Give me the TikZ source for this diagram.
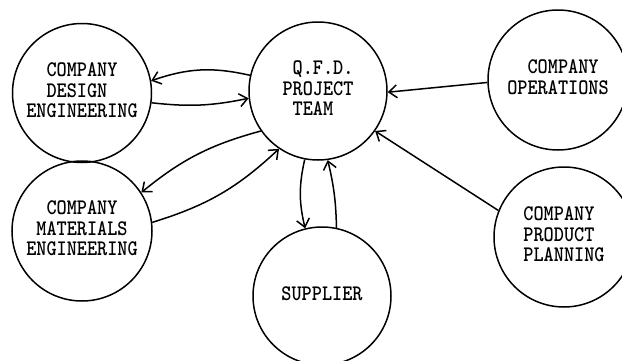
\documentclass[tikz,border=0pt]{standalone}
\usepackage{graphicx}
\usetikzlibrary{arrows.meta}

% typewriter-style capitals, slightly condensed look (tall letters)
\newcommand\bubbletext[2][c]{\scalebox{1}[1.15]{\fontsize{19.3}{17.4}\selectfont\ttfamily\bfseries
  \begin{tabular}{@{}#1@{}}#2\end{tabular}}}
\newcommand\onechar{\hspace*{0.525em}}

\tikzset{
  bubble/.style={circle, draw, line width=1.5pt, minimum size=#1, inner sep=0pt},
  flow/.style={line width=1.5pt, -{Straight Barb[length=8pt,width=13pt]}},
}

\begin{document}
\begin{tikzpicture}[x=1pt,y=1pt]
  \useasboundingbox (0,0) rectangle (622,360);

  % circles
  \node[bubble=138] (qfd)    at (318,269) {\bubbletext[l]{\onechar Q.F.D.\\PROJECT\\\onechar TEAM}};
  \node[bubble=139] (design) at (82,267)  {\bubbletext{COMPANY\\DESIGN\onechar\\ENGINEERING}};
  \node[bubble=140] (mat)    at (82,129)  {\bubbletext{COMPANY\\MATERIALS\\ENGINEERING}};
  \node[bubble=138] (sup)    at (322,64)  {\bubbletext{SUPPLIER}};
  \node[bubble=140] (ops)    at (558,280) {\bubbletext{\onechar COMPANY\\OPERATIONS}};
  \node[bubble=140] (pp)     at (564,123) {\bubbletext[l]{COMPANY\\PRODUCT\\PLANNING}};

  % exchanges with the project team
  \draw[flow] (qfd.167)  to[bend right=16] (design.10);
  \draw[flow] (design.-8) to[bend right=9] (qfd.186);
  \draw[flow] (mat.7)    to[bend right=13] (qfd.236);
  \draw[flow] (qfd.215)  to[bend right=12] (mat.33);
  \draw[flow] (qfd.259)  to[bend right=13] (sup.104);
  \draw[flow] (sup.78)   to[bend right=6]  (qfd.278);

  % one-way inputs
  \draw[flow] (ops.182) -- (qfd.359);
  \draw[flow] (pp.158)  -- (qfd.-35);
\end{tikzpicture}
\end{document}
